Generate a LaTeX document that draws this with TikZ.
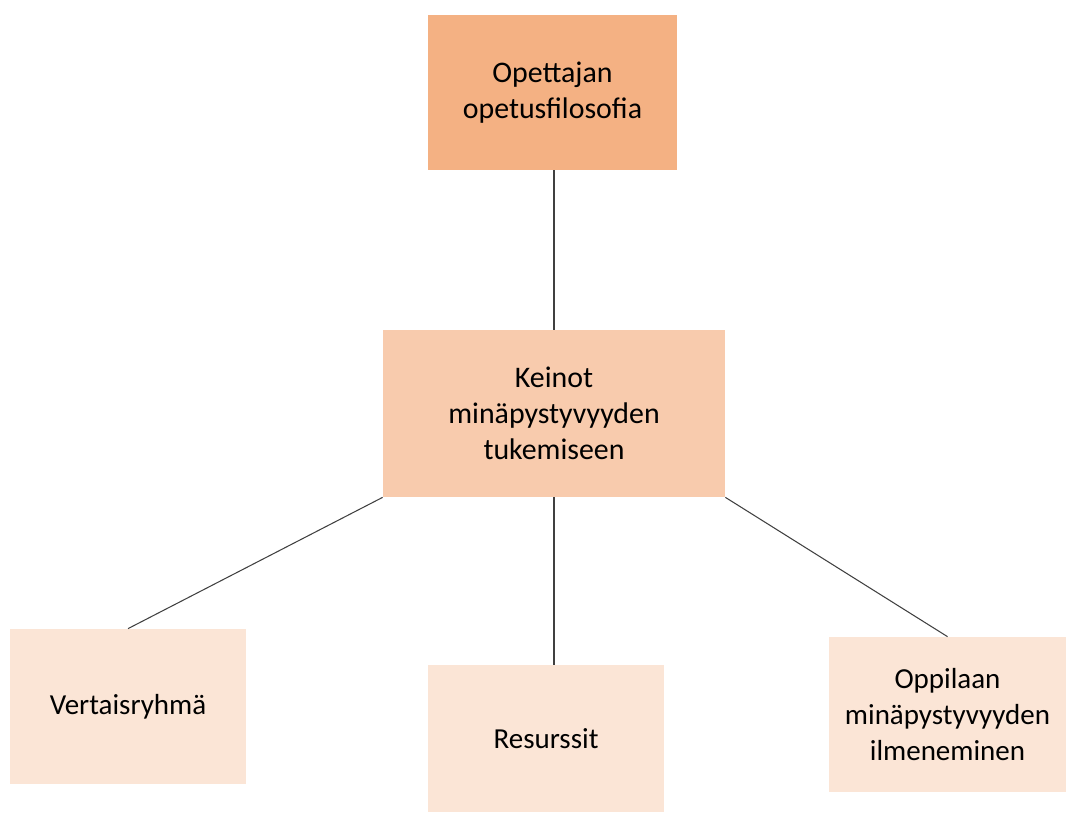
\documentclass[tikz,border=0pt]{standalone}
\usepackage{fontspec}
\setmainfont{Carlito}
\usepackage{xcolor}
\usetikzlibrary{positioning}
\definecolor{orangeA}{HTML}{F4B183}
\definecolor{orangeB}{HTML}{F8CBAD}
\definecolor{orangeC}{HTML}{FBE5D6}
\definecolor{linegray}{HTML}{404040}

\begin{document}
\begin{tikzpicture}[link/.style = { draw = linegray, line width = 0.6pt }, box/.style = { rectangle, align = center, inner sep = 2pt, font = \fontsize{17}{20.5}\selectfont }, topbox/.style = { box, fill = orangeA, minimum width = 4.98cm, minimum height = 3.1cm }, midbox/.style = { box, fill = orangeB, minimum width = 6.84cm, minimum height = 3.34cm }, leafbox/.style = { box, fill = orangeC, minimum width = 4.72cm, minimum height = 3.1cm, font = \fontsize{16.5}{20.5}\selectfont }]
				\useasboundingbox (0, 0) rectangle (21.34, 16.28);

				\node [topbox] (filosofia) at (11.05, 14.43) {Opettajan\\opetusfilosofia};
				\node [midbox] (keinot) at (11.08, 8.01) {Keinot\\minäpystyvyyden\\tukemiseen};

				\node [leafbox] (vertais) at (2.56, 2.15) {Vertaisryhmä};
				\node [leafbox, minimum height = 2.94cm] (resurssit) at (10.92, 1.51) {Resurssit};
				\node [leafbox, minimum width = 4.74cm] (oppilaan) at (18.95, 1.99) {Oppilaan\\minäpystyvyyden\\ilmeneminen};

				\draw [link] (filosofia.south -| keinot.north) -- (keinot.north);

				\draw [link] (keinot.south west) -- (vertais.north);
				\draw [link] (keinot.south) -- (keinot.south |- resurssit.north);
				\draw [link] (keinot.south east) -- (oppilaan.north);
			\end{tikzpicture}
\end{document}
